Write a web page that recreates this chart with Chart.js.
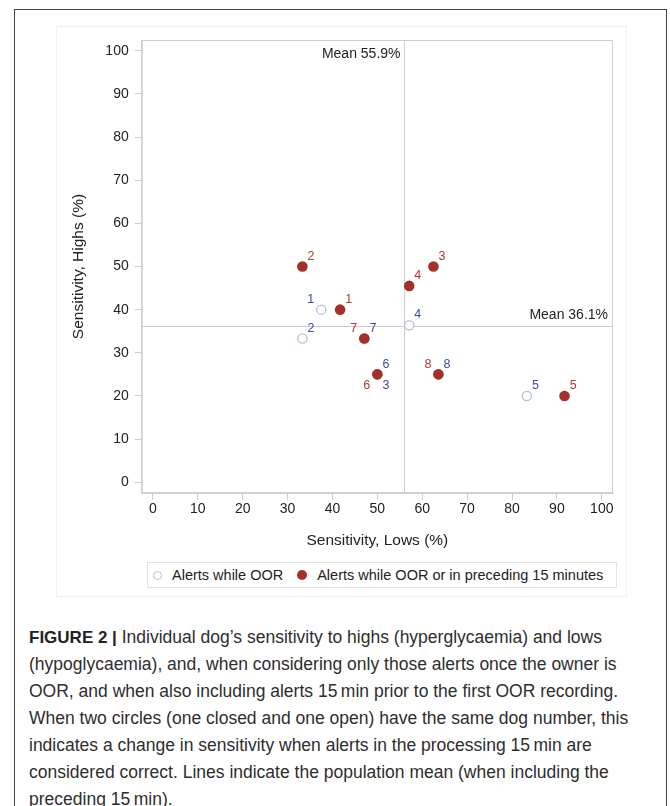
<!DOCTYPE html>
<html>
<head>
<meta charset="utf-8">
<script src="https://cdn.jsdelivr.net/npm/chart.js@4/dist/chart.umd.min.js"></script>
<style>
  html, body { margin: 0; padding: 0; background: #fff; }
  body { width: 670px; height: 806px; position: relative; overflow: hidden; font-family: "Liberation Sans", Arial, sans-serif; }
  #frame { position: absolute; left: 14px; top: 9px; width: 653px; height: 820px; border: 1px solid #444; box-sizing: border-box; }
  #inner { position: absolute; left: 56px; top: 26px; width: 571px; height: 571px; border: 1px solid #f0f0f0; box-sizing: border-box; }
  #chart { position: absolute; left: 0; top: 0; }
  #legend { position: absolute; left: 147px; top: 562px; width: 470px; height: 26px; border: 1px solid #e2e2e2; box-sizing: border-box;
            font-size: 14.5px; color: #222; display: flex; align-items: center; white-space: nowrap; }
  .mk { display: inline-block; width: 9px; height: 9px; border-radius: 50%; box-sizing: border-box; }
  #caption { position: absolute; left: 29px; top: 624px; font-size: 17.5px; line-height: 27px; color: #2e2e2e; white-space: nowrap; }
  #caption b { font-weight: bold; color: #222; font-size: 17px; }
</style>
</head>
<body>
<div id="frame"></div>
<div id="inner"></div>
<canvas id="chart" width="670" height="560"></canvas>
<div id="legend"></div>
<div id="caption"></div>
<script>
// ---- data ----
const dogs = ['1', '2', '3', '4', '5', '6', '7', '8'];
const oorLows  = [37.5, 33.3, 50.0, 57.1, 83.3, 50.0, 47.1, 63.6];
const oorHighs = [40.0, 33.3, 25.0, 36.4, 20.0, 25.0, 33.3, 25.0];
const precLows  = [41.7, 33.3, 62.5, 57.1, 91.7, 50.0, 47.1, 63.6];
const precHighs = [40.0, 50.0, 50.0, 45.5, 20.0, 25.0, 33.3, 25.0];
const meanLows = 55.9;
const meanHighs = 36.1;
const xTicks = [0, 10, 20, 30, 40, 50, 60, 70, 80, 90, 100];
const yTicks = [0, 10, 20, 30, 40, 50, 60, 70, 80, 90, 100];
const seriesNames = ['Alerts while OOR', 'Alerts while OOR or in preceding 15 minutes'];
const xTitle = 'Sensitivity, Lows (%)';
const yTitle = 'Sensitivity, Highs (%)';

// label placement (style only)
const oorLabelPos  = ['nw', 'ne', 'se', 'ne', 'ne', 'ne', 'ne', 'ne'];
const precLabelPos = ['ne', 'ne', 'ne', 'ne', 'ne', 'sw', 'nw', 'nw'];

const BLUE_MK = '#b9bde0', BLUE_TX = '#3b4ca3';
const RED_MK = '#a3302a', RED_TX = '#b13a2f';
const AXIS = '#cfcfcf';
const FONT = '"Liberation Sans", Arial, sans-serif';

const offsets = { ne: [8.6, -10.3], nw: [-10.5, -10.2], sw: [-10.7, 11.3], se: [8.7, 11.3] };

const toPts = (xs, ys) => xs.map((x, i) => ({ x: x, y: ys[i] }));

const plotPlugin = {
  id: 'plotExtras',
  beforeDatasetsDraw(chart) {
    const { ctx, chartArea: a, scales } = chart;
    ctx.save();
    ctx.strokeStyle = AXIS;
    ctx.lineWidth = 1;
    ctx.strokeRect(a.left + 0.5, a.top + 0.5, a.right - a.left - 1, a.bottom - a.top - 1);
    // mean lines
    const mx = Math.round(scales.x.getPixelForValue(meanLows)) + 0.5;
    const my = Math.round(scales.y.getPixelForValue(meanHighs)) + 0.5;
    ctx.strokeStyle = '#cdcdcd';
    ctx.beginPath();
    ctx.moveTo(mx, a.top); ctx.lineTo(mx, a.bottom);
    ctx.moveTo(a.left, my); ctx.lineTo(a.right, my);
    ctx.stroke();
    ctx.fillStyle = '#222';
    ctx.font = '14px ' + FONT;
    ctx.textAlign = 'right';
    ctx.textBaseline = 'middle';
    ctx.fillText('Mean ' + meanLows.toFixed(1) + '%', mx - 4, a.top + 14);
    ctx.fillText('Mean ' + meanHighs.toFixed(1) + '%', a.right - 5, my - 11);
    ctx.restore();
  },
  afterDatasetsDraw(chart) {
    const { ctx } = chart;
    ctx.save();
    ctx.font = '12.5px ' + FONT;
    ctx.textAlign = 'center';
    ctx.textBaseline = 'middle';
    chart.data.datasets.forEach((ds, di) => {
      const meta = chart.getDatasetMeta(di);
      ctx.fillStyle = ds.labelColor;
      meta.data.forEach((el, i) => {
        const o = offsets[ds.labelPos[i]];
        ctx.fillText(ds.dogLabels[i], el.x + o[0], el.y + o[1]);
      });
    });
    ctx.restore();
  }
};

const tickFont = { family: FONT, size: 14 };
const titleFont = { family: FONT, size: 15.5 };

new Chart(document.getElementById('chart'), {
  type: 'scatter',
  data: {
    datasets: [
      {
        label: seriesNames[0],
        data: toPts(oorLows, oorHighs),
        dogLabels: dogs, labelPos: oorLabelPos, labelColor: BLUE_TX,
        pointStyle: 'circle', pointRadius: 4.6, pointBorderWidth: 1.3,
        pointBorderColor: BLUE_MK, pointBackgroundColor: '#ffffff',
        order: 2
      },
      {
        label: seriesNames[1],
        data: toPts(precLows, precHighs),
        dogLabels: dogs, labelPos: precLabelPos, labelColor: RED_TX,
        pointStyle: 'circle', pointRadius: 5.3, pointBorderWidth: 0,
        pointBorderColor: RED_MK, pointBackgroundColor: RED_MK,
        order: 1
      }
    ]
  },
  options: {
    responsive: false,
    animation: false,
    events: [],
    layout: { padding: { left: 69.7, top: 40, right: 57, bottom: 9.7 } },
    plugins: { legend: { display: false }, tooltip: { enabled: false } },
    scales: {
      x: {
        type: 'linear', min: -2.5, max: 102.5,
        afterBuildTicks: (s) => { s.ticks = xTicks.map(v => ({ value: v })); },
        afterFit: (s) => { s.height = 57.3; },
        grid: { drawOnChartArea: false, drawTicks: true, tickLength: 7, color: AXIS },
        border: { display: true, color: AXIS },
        ticks: { font: tickFont, color: '#222', padding: 1, maxRotation: 0 },
        title: { display: true, text: xTitle, font: titleFont, color: '#222', padding: 0 }
      },
      y: {
        type: 'linear', min: -2.5, max: 102.5,
        afterBuildTicks: (s) => { s.ticks = yTicks.map(v => ({ value: v })); },
        afterFit: (s) => { s.width = 72; },
        grid: { drawOnChartArea: false, drawTicks: true, tickLength: 7, color: AXIS },
        border: { display: true, color: AXIS },
        ticks: { font: tickFont, color: '#222', padding: 6 },
        title: { display: true, text: yTitle, font: titleFont, color: '#222', padding: 0 }
      }
    }
  },
  plugins: [plotPlugin]
});

// legend (HTML, real text)
const lg = document.getElementById('legend');
lg.innerHTML =
  '<span class="mk" style="margin-left:5px;border:1.3px solid ' + BLUE_MK + ';background:#fff"></span>' +
  '<span style="margin-left:10px">' + seriesNames[0] + '</span>' +
  '<span class="mk" style="margin-left:14px;background:' + RED_MK + ';width:10px;height:10px"></span>' +
  '<span style="margin-left:10px">' + seriesNames[1] + '</span>';

// caption
const captionLines = [
  '<b>FIGURE 2 |</b> Individual dog\u2019s sensitivity to highs (hyperglycaemia) and lows',
  '(hypoglycaemia), and, when considering only those alerts once the owner is',
  'OOR, and when also including alerts 15\u2009min prior to the first OOR recording.',
  'When two circles (one closed and one open) have the same dog number, this',
  'indicates a change in sensitivity when alerts in the processing 15\u2009min are',
  'considered correct. Lines indicate the population mean (when including the',
  'preceding 15\u2009min).'
];
document.getElementById('caption').innerHTML = captionLines.join('<br>');
</script>
</body>
</html>
